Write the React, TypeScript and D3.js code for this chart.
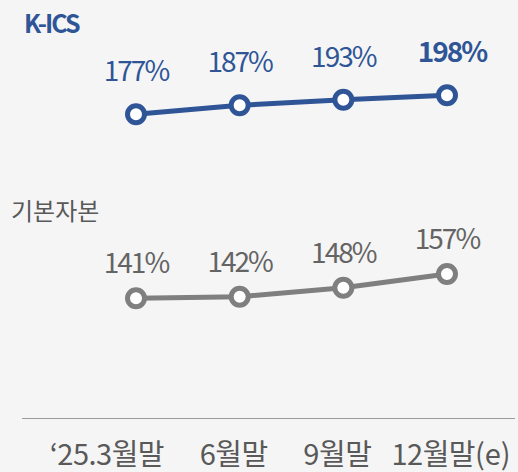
import React from "react";
import * as d3 from "d3";

// periods on the x axis (main part, right-aligned under the point, and a suffix)
const periods = ["‘25.3월말", "6월말", "9월말", "12월말"];
const suffixes = ["", "", "", "(e)"];
// K-ICS ratio (%)
const kics = [177, 187, 193, 198];
// 기본자본 ratio (%)
const basic = [141, 142, 148, 157];

const W = 518;
const H = 472;
const BLUE = "#2f5597";
const GRAY = "#7f7f7f";
const FONT = "'Noto Sans CJK KR', 'Noto Sans', sans-serif";

const App = () => {
  const x = d3.scalePoint<number>().domain(d3.range(periods.length)).range([136, 447]);

  // each series has its own vertical scale
  const yK = d3.scaleLinear().domain([177, 198]).range([114.3, 95.3]);
  const yB = d3.scaleLinear().domain([141, 157]).range([298.3, 274]);

  const line = (ys: d3.ScaleLinear<number, number>) =>
    d3.line<number>().x((d, i) => x(i)!).y(d => ys(d));

  const series = [
    { name: "K-ICS", vals: kics, y: yK, color: BLUE, text: BLUE, dy: -33 },
    { name: "기본자본", vals: basic, y: yB, color: GRAY, text: "#646464", dy: -25 },
  ];

  return (
    <svg width={W} height={H} style={{ position: "absolute", left: 0, top: 0, background: "#f5f5f5" }} fontFamily={FONT}>
      <rect width={W} height={H} fill="#f5f5f5" />
      <text x={24} y={33} fill={BLUE} fontSize={25} fontWeight={600} letterSpacing={-2}>K-ICS</text>
      <text x={11} y={220} fill="#595959" fontSize={24}>기본자본</text>

      {series.map((s, si) => (
        <g key={s.name}>
          <path d={line(s.y)(s.vals)!} fill="none" stroke={s.color} strokeWidth={5} />
          {s.vals.map((v, i) => (
            <circle key={i} cx={x(i)} cy={s.y(v)} r={8.5} fill="#fff" stroke={s.color} strokeWidth={5} />
          ))}
          {s.vals.map((v, i) => {
            const last = si === 0 && i === s.vals.length - 1;
            return (
              <text
                key={"t" + i}
                x={x(i)! + (last ? 5 : 0)}
                y={s.y(v) + s.dy}
                textAnchor="middle"
                fill={s.text}
                fontSize={28}
                fontWeight={last ? 700 : 400}
                letterSpacing={-2}
              >
                {v}%
              </text>
            );
          })}
        </g>
      ))}

      <line x1={22} x2={515} y1={418.5} y2={418.5} stroke="#9a9a9a" strokeWidth={1} />
      {periods.map((p, i) => (
        <g key={p} fill="#595959" fontSize={29}>
          <text x={x(i)! + 28} y={465} textAnchor="end" letterSpacing={-0.5}>{p}</text>
          {suffixes[i] && <text x={x(i)! + 28} y={465} textAnchor="start">{suffixes[i]}</text>}
        </g>
      ))}
    </svg>
  );
};

export default App;
